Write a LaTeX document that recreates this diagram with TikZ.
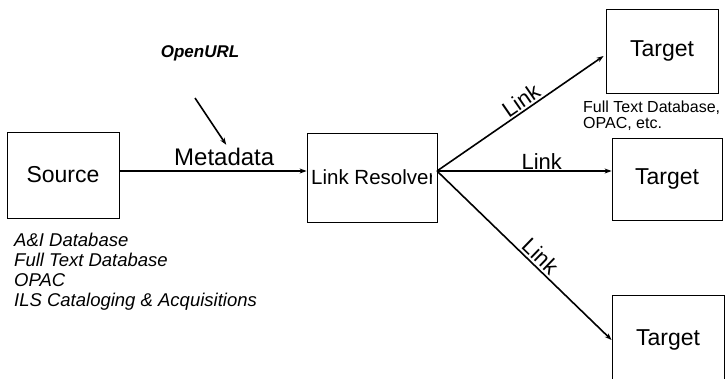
\documentclass[tikz,border=0pt]{standalone}
\usepackage{fontspec}
\setmainfont{Liberation Sans}
\usetikzlibrary{arrows.meta,calc}

\begin{document}
\begin{tikzpicture}[x=1pt,y=-1pt,
  box/.style={draw, line width=0.8pt, inner sep=0pt, font=\fontsize{23}{27}\selectfont},
  arr/.style={line width=1.6pt, -{Stealth[length=7pt,width=5pt]}},
  lbl/.style={inner sep=0pt, font=\fontsize{22}{26}\selectfont},
  captext/.style={anchor=north west, align=left, inner sep=0pt}]
\useasboundingbox (0,0) rectangle (726,378);

% boxes
\node[box, minimum width=112pt, minimum height=86pt] (src) at (63,175) {Source};
\node[box, minimum width=130pt, minimum height=89pt] (lr) at (372,177.5) {};
\begin{scope}
  \clip (lr.south west) rectangle ($(lr.north east)+(-6,0)$);
  \node[anchor=west, inner sep=0pt, font=\fontsize{20.5}{24}\selectfont] (lrtext) at (311,177) {Link Resolver};
\end{scope}
\node[box, minimum width=112pt, minimum height=84pt] (t1) at (662,51) {Target};
\node[box, minimum width=110pt, minimum height=82pt] (t2) at (667,179) {Target};
\node[box, minimum width=112pt, minimum height=90pt] (t3) at (668,340) {Target};

% fan-out point on the resolver's right side
\coordinate (hub) at (437,171);
\coordinate (ou) at (195,98);

% connectors
\draw[arr] (src.east |- hub) -- node[lbl, pos=.56, above=4pt, font=\fontsize{24}{28}\selectfont] (meta) {Metadata} (lr.west |- hub);
\draw[arr] (hub) -- node[lbl, sloped, pos=.54, above=2pt] (l1) {Link} ($(t1.west)+(-2,5)$);
\draw[arr] (hub) -- node[lbl, pos=.6, above=1pt] (l2) {Link} (t2.west |- hub);
\draw[arr] (hub) -- node[lbl, sloped, pos=.55, above=2pt] (l3) {Link} (t3.west);

% OpenURL annotation
\node[font=\bfseries\itshape\fontsize{17}{20}\selectfont] (openurl) at (200,53) {OpenURL};
\draw[arr] (ou) -- ($(meta.north)+(2,-3)$);

% captions
\node[captext, font=\itshape\fontsize{18.5}{20}\selectfont] (srccap) at (14,233)
  {A\&I Database\\Full Text Database\\OPAC\\ILS Cataloging \& Acquisitions};
\node[captext, font=\fontsize{16}{16}\selectfont] (tcap) at (583,101)
  {Full Text Database,\\OPAC, etc.};
\end{tikzpicture}
\end{document}
